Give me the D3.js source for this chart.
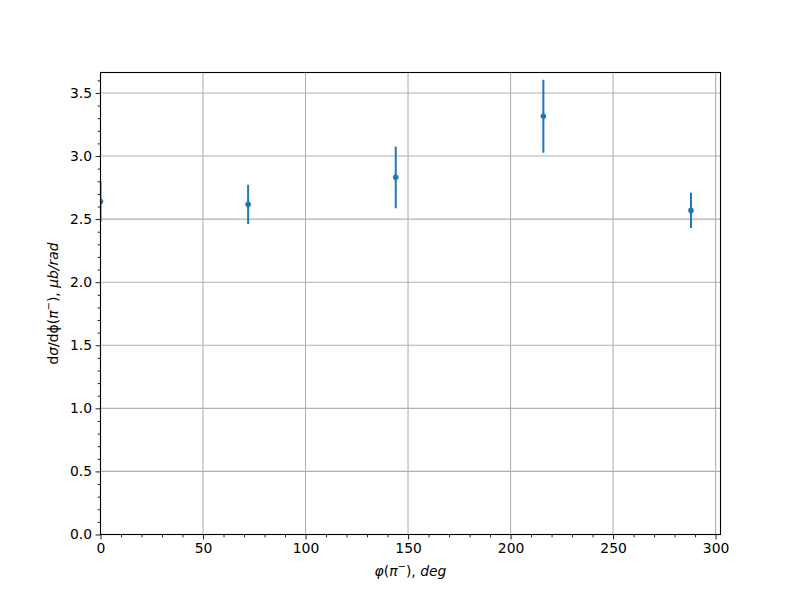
<!DOCTYPE html>
<html><head><meta charset="utf-8">
<script src="https://cdn.jsdelivr.net/npm/d3@7"></script>
<style>
body{margin:0;background:#fff;}
text{font-family:"DejaVu Sans",sans-serif;}
</style></head>
<body><svg id="c" width="800" height="600"></svg>
<script>
const phi = [0, 72, 144, 216, 288];
const xsec = [2.64, 2.617, 2.831, 3.315, 2.569];
const errs = [0.16, 0.155, 0.245, 0.29, 0.14];
const xTicks = [0, 50, 100, 150, 200, 250, 300];
const yTicks = [0.0, 0.5, 1.0, 1.5, 2.0, 2.5, 3.0, 3.5];

const svg = d3.select("#c");
const L = 100.5, R = 720.5, T = 72.5, B = 534.5;
const x = d3.scaleLinear().domain([0, 302.4]).range([L, R]);
const y = d3.scaleLinear().domain([0, 3.662]).range([B, T]);
const color = "#1f77b4";

// grid
const g = svg.append("g");
g.selectAll(".gx").data(xTicks).join("line")
  .attr("x1", d => x(d)).attr("x2", d => x(d)).attr("y1", T).attr("y2", B)
  .attr("stroke", "#b0b0b0").attr("stroke-width", 1.1);
g.selectAll(".gy").data(yTicks).join("line")
  .attr("y1", d => y(d)).attr("y2", d => y(d)).attr("x1", L).attr("x2", R)
  .attr("stroke", "#b0b0b0").attr("stroke-width", 1.1);

// clip
svg.append("clipPath").attr("id", "clip").append("rect")
  .attr("x", L).attr("y", T).attr("width", R - L).attr("height", B - T);
const data = phi.map((p, i) => ({p, v: xsec[i], e: errs[i]}));
const dg = svg.append("g").attr("clip-path", "url(#clip)");
dg.selectAll("line.err").data(data).join("line").attr("class", "err")
  .attr("x1", d => x(d.p)).attr("x2", d => x(d.p))
  .attr("y1", d => y(d.v - d.e)).attr("y2", d => y(d.v + d.e))
  .attr("stroke", color).attr("stroke-width", 2);
dg.selectAll("circle").data(data).join("circle")
  .attr("cx", d => x(d.p)).attr("cy", d => y(d.v)).attr("r", 2.8)
  .attr("fill", color);

// axes
const xAxis = d3.axisBottom(x).tickValues(xTicks).tickFormat(d3.format("d")).tickSize(4.9).tickPadding(3.5);
const xMinor = d3.axisBottom(x).tickValues(d3.range(0, 301, 10).filter(v => v % 50 !== 0)).tickFormat("").tickSize(2.8);
const yAxis = d3.axisLeft(y).tickValues(yTicks).tickFormat(d3.format(".1f")).tickSize(4.9).tickPadding(3.5);
const yMinor = d3.axisLeft(y).tickValues(d3.range(0, 36.1, 1).map(v => v / 10).filter((v, i) => i % 5 !== 0)).tickFormat("").tickSize(2.8);

function style(sel) {
  sel.select(".domain").remove();
  sel.selectAll("line").attr("stroke", "#000").attr("stroke-width", 0.9);
  sel.selectAll("text").attr("font-size", "13.9px").attr("fill", "#000").attr("font-family", "DejaVu Sans");
}
svg.append("g").attr("transform", `translate(0,${B})`).call(xAxis).call(style);
svg.append("g").attr("transform", `translate(0,${B})`).call(xMinor).call(style);
svg.append("g").attr("transform", `translate(${L},0)`).call(yAxis).call(style);
svg.append("g").attr("transform", `translate(${L},0)`).call(yMinor).call(style);

// spines
svg.append("rect").attr("x", L).attr("y", T).attr("width", R - L).attr("height", B - T)
  .attr("fill", "none").attr("stroke", "#000").attr("stroke-width", 1.1);

// x label
const xl = svg.append("text").attr("x", (L + R) / 2).attr("y", 576)
  .attr("text-anchor", "middle").attr("font-size", "13.9px");
xl.append("tspan").attr("font-style", "italic").text("φ");
xl.append("tspan").text("(");
xl.append("tspan").attr("font-style", "italic").text("π");
xl.append("tspan").attr("font-size", "10px").attr("dy", -6).text("−");
xl.append("tspan").attr("dy", 6).text("), ");
xl.append("tspan").attr("font-style", "italic").text("deg");

// y label
const yl = svg.append("text").attr("transform", `translate(58,${(T + B) / 2}) rotate(-90)`)
  .attr("text-anchor", "middle").attr("font-size", "13.9px");
yl.append("tspan").text("d");
yl.append("tspan").attr("font-style", "italic").text("σ");
yl.append("tspan").text("/d");
yl.append("tspan").text("ϕ");
yl.append("tspan").text("(");
yl.append("tspan").attr("font-style", "italic").text("π");
yl.append("tspan").attr("font-size", "10px").attr("dy", -6).text("−");
yl.append("tspan").attr("dy", 6).text("), ");
yl.append("tspan").attr("font-style", "italic").text("μb/rad");
</script></body></html>
